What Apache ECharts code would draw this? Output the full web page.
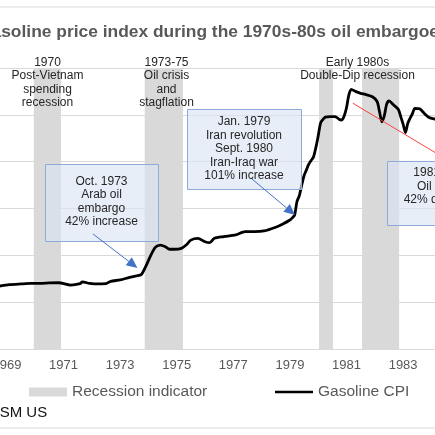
<!DOCTYPE html>
<html>
<head>
<meta charset="utf-8">
<script src="https://cdn.jsdelivr.net/npm/echarts@6/dist/echarts.min.js"></script>
<style>
html,body{margin:0;padding:0;background:#fff;overflow:hidden;}
#chart{width:435px;height:435px;}
</style>
</head>
<body>
<div id="chart"></div>
<script>
// ---- data ----
const months = [
  '1968-08','1968-10','1969-02','1969-07','1969-11','1970-03','1970-07','1970-11',
  '1971-04','1971-08','1971-09','1971-12','1972-02','1972-07','1972-09',
  '1973-01','1973-05','1973-08','1973-10','1973-12','1974-02','1974-04','1974-06',
  '1974-08','1974-10','1974-12','1975-03','1975-05','1975-07','1975-10',
  '1976-01','1976-03','1976-05','1976-09','1977-02','1977-06','1977-10',
  '1978-02','1978-07','1978-10','1979-01','1979-02','1979-03','1979-04','1979-05',
  '1979-06','1979-07','1979-08','1979-09','1979-10','1979-11','1979-12',
  '1980-01','1980-02','1980-03','1980-04','1980-06','1980-08','1980-09','1980-10',
  '1980-11','1980-12','1981-01','1981-02','1981-03','1981-05','1981-07','1981-09',
  '1981-12','1982-02','1982-03','1982-04','1982-05','1982-06','1982-07','1982-09',
  '1982-11','1982-12','1983-01','1983-02','1983-03','1983-05','1983-06','1983-08',
  '1983-10','1983-12','1984-03','1984-05'
];
const gasolineCPI = [
  26.9,26.9,27.5,27.8,28.0,28.0,28.2,28.3,
  27.3,27.9,28.7,28.0,27.8,27.9,28.9,
  29.5,30.6,31.2,31.8,35.5,40.0,43.5,44.4,
  43.8,42.6,42.6,43.0,44.4,46.5,47.2,
  45.8,45.4,47.3,48.0,48.7,50.1,50.1,
  50.4,52.0,53.4,55.1,56.0,57.2,63.0,65.5,
  70.0,74.0,76.5,79.0,80.5,82.0,86.0,
  91.0,96.5,98.0,99.0,99.2,99.2,98.8,98.0,
  97.8,99.5,103.0,108.5,110.9,109.9,109.2,108.7,
  107.7,105.6,101.3,97.0,99.5,104.5,106.0,104.2,
  102.3,99.2,96.0,92.4,96.4,100.6,102.8,102.6,
  100.6,98.9,98.1,97.5
];
// recession periods, decimal years
const recessionStart = [1969.95, 1973.87, 1980.03, 1981.55];
const recessionEnd   = [1970.91, 1975.22, 1980.52, 1982.86];
const xLabelYears = [1969,1971,1973,1975,1977,1979,1981,1983];
// red trend line endpoints [year, value]
const trendYears  = [1981.22, 1985.0];
const trendValues = [105.0, 77.6];

const toYear = s => { const p = s.split('-').map(Number); return p[0] + (p[1]-1)/12; };
const lineData = months.map((m,i) => [toYear(m), gasolineCPI[i]]);
const recData = recessionStart.map((s,i) => [s, recessionEnd[i]]);
const trendData = trendYears.map((y,i) => [y, trendValues[i]]);

const FONT = '"Liberation Sans", Arial, sans-serif';
const chart = echarts.init(document.getElementById('chart'), null, {width:435, height:435});

function arrow(x1,y1,x2,y2,color){
  const dx = x2-x1, dy = y2-y1, L = Math.sqrt(dx*dx+dy*dy);
  const ux = dx/L, uy = dy/L, hl = 11, hw = 5;
  const bx = x2-ux*hl, by = y2-uy*hl;
  return [
    {type:'line', shape:{x1:x1,y1:y1,x2:bx,y2:by}, style:{stroke:color,lineWidth:1}, z:20},
    {type:'polygon', shape:{points:[[x2,y2],[bx-uy*hw,by+ux*hw],[bx+uy*hw,by-ux*hw]]}, style:{fill:color}, z:20}
  ];
}
function box(x,y,w,h){
  return {type:'rect', shape:{x:x,y:y,width:w,height:h},
    style:{fill:'rgba(218,227,243,0.62)', stroke:'#8eaadb', lineWidth:1}, z:15};
}
function txt(x,y,s,lh){
  return {type:'text', x:x, y:y, z:25,
    style:{text:s, fontSize:12, fontFamily:FONT, fill:'#262626', align:'center', verticalAlign:'top', lineHeight:lh||13.6}};
}

const graphics = [
  {type:'line', shape:{x1:0,y1:7,x2:435,y2:7}, style:{stroke:'#d9d9d9',lineWidth:1}},
  {type:'line', shape:{x1:0,y1:428,x2:435,y2:428}, style:{stroke:'#d9d9d9',lineWidth:1}},
  {type:'text', x:-22, y:24, style:{text:'Gasoline price index during the 1970s-80s oil embargoes',
     fontSize:17.4, fontWeight:'bold', fontFamily:FONT, fill:'#595959', align:'left', verticalAlign:'top'}},
  {type:'text', x:-67, y:405, style:{text:'Source: RSM US', fontSize:15, fontFamily:FONT, fill:'#111', align:'left', verticalAlign:'top'}},
  txt(47.5,55.5,'1970\nPost-Vietnam\nspending\nrecession'),
  txt(166.5,55.5,'1973-75\nOil crisis\nand\nstagflation'),
  txt(357.5,55.5,'Early 1980s\nDouble-Dip recession'),
  ...arrow(93,234,137.5,268,'#4472c4'),
  ...arrow(252,179,295,215,'#4472c4'),
  box(45.5,164.5,113,77),
  txt(101.5,175,'Oct. 1973\nArab oil\nembargo\n42% increase',13.4),
  box(187.5,109.5,114,80),
  txt(244,115,'Jan. 1979\nIran revolution\nSept. 1980\nIran-Iraq war\n101% increase',13.5),
  box(387.5,161.5,110,64),
  txt(442,166,'1981-1986\nOil prices\n42% decrease')
];

chart.setOption({
  animation:false,
  textStyle:{fontFamily:FONT},
  grid:{left:0,right:0,top:68,bottom:86,containLabel:false,outerBoundsMode:'none'},
  xAxis:{type:'value', min:1968.756, max:1984.127,
    axisLine:{show:true,lineStyle:{color:'#d9d9d9',width:1}},
    axisTick:{show:false}, splitLine:{show:false},
    axisLabel:{customValues:xLabelYears, color:'#595959', fontSize:13, margin:10, formatter:v=>String(Math.round(v))}},
  yAxis:{type:'value', min:0, max:120, interval:20,
    axisLabel:{show:false}, axisLine:{show:false}, axisTick:{show:false},
    splitLine:{show:true,lineStyle:{color:'#d9d9d9',width:1}}},
  legend:[
    {data:[{name:'Recession indicator', icon:'rect'}], left:29, top:384, padding:0,
     itemWidth:38, itemHeight:9, textStyle:{color:'#595959', fontSize:15.5, fontFamily:FONT}},
    {data:[{name:'Gasoline CPI', icon:'path://M0,0 L38,0 L38,2.7 L0,2.7 Z'}], left:275, top:384, padding:0,
     itemWidth:38, itemHeight:9, textStyle:{color:'#595959', fontSize:15.5, fontFamily:FONT}}
  ],
  series:[
    {name:'Recession indicator', type:'line', data:[], symbol:'none', itemStyle:{color:'#d9d9d9'},
     lineStyle:{width:0}, z:1,
     markArea:{silent:true, itemStyle:{color:'#d9d9d9'}, label:{show:false},
       data:recData.map(r => [{xAxis:r[0]},{xAxis:r[1]}])}},
    {name:'Gasoline CPI', type:'line', data:lineData, symbol:'none', smooth:0.25, z:3,
     lineStyle:{color:'#000', width:2.8}, itemStyle:{color:'#000'}},
    {name:'Trend', type:'line', data:trendData, symbol:'none', silent:true, z:4, clip:false,
     lineStyle:{color:'#ff4040', width:1}, itemStyle:{color:'#ff4040'}}
  ],
  graphic:graphics
});
</script>
</body>
</html>
